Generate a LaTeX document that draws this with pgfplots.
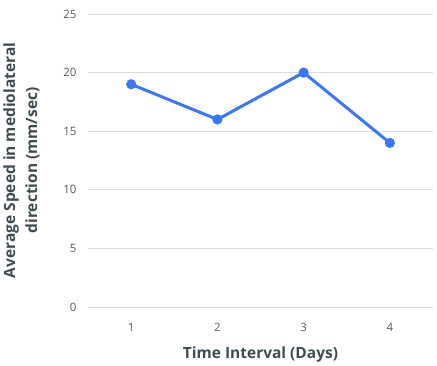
\documentclass[border=0pt]{standalone}
\usepackage{fontspec}
\setmainfont{Open Sans}
\usepackage{pgfplots}
\pgfplotsset{compat=1.18}
\definecolor{linecol}{HTML}{3D76F2}
\definecolor{txtcol}{HTML}{3E4B50}
\definecolor{tickcol}{HTML}{505A5E}
\definecolor{gridcol}{HTML}{DCDEDE}
\begin{document}
\begin{tikzpicture}
\begin{axis}[
  scale only axis,
  width=345pt, height=293pt,
  xmin=0.5, xmax=4.5,
  ymin=0, ymax=25,
  ytick={0,5,10,15,20,25},
  xtick={1,2,3,4},
  axis line style={draw=none},
  tick style={draw=none},
  ymajorgrids,
  grid style={gridcol, line width=0.8pt},
  /pgf/number format/assume math mode=true,
  tick label style={font=\fontsize{11.5}{13}\selectfont, text=tickcol},
  yticklabel style={xshift=-8pt},
  xticklabel style={yshift=-13pt},
  xlabel={Time Interval (Days)},
  ylabel={Average Speed in mediolateral\\direction (mm/sec)},
  ylabel style={align=center, font=\fontsize{15.5}{22}\selectfont\bfseries, text=txtcol, yshift=17pt},
  xlabel style={font=\fontsize{15.5}{18}\selectfont\bfseries, text=txtcol, yshift=-8pt},
]
\addplot[linecol, line width=3pt, mark=*, mark size=3.5pt, mark options={solid, fill=linecol, draw=none}]
coordinates {(1,19) (2,16) (3,20) (4,14)};
\end{axis}
\path[use as bounding box] (current axis.south west) ++(-88pt,-55pt) rectangle ++(437pt,362pt);
\end{tikzpicture}
\end{document}
